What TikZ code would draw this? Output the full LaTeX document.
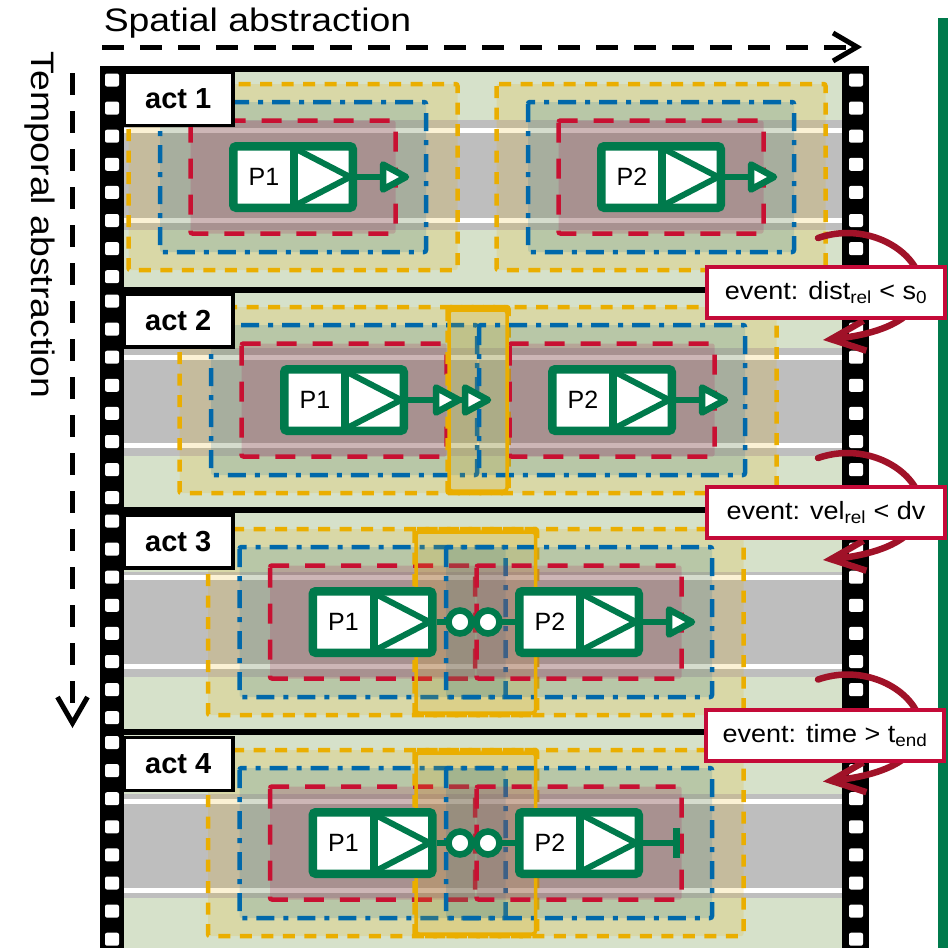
\documentclass[tikz,border=0pt]{standalone}
\usepackage{fontspec}
\setmainfont{Liberation Sans}
\newfontfamily\widesans[FakeStretch=1.15]{Liberation Sans}
\newfontfamily\evsans[FakeStretch=1.08]{Liberation Sans}
\usetikzlibrary{arrows.meta,calc}
\definecolor{vgreen}{RGB}{0,122,76}
\definecolor{zyellow}{RGB}{234,174,0}
\definecolor{zblue}{RGB}{0,104,170}
\definecolor{zred}{RGB}{200,16,50}
\definecolor{zredfill}{RGB}{175,30,90}
\definecolor{evred}{RGB}{196,10,56}
\definecolor{curvered}{RGB}{160,18,40}
\definecolor{grass}{RGB}{214,225,202}
\definecolor{roadgray}{RGB}{190,190,190}
\tikzset{
  yzone/.style={draw=zyellow, line width=4.5pt, dash pattern=on 12pt off 9.5pt, fill=zyellow, fill opacity=0.17, rounded corners=2pt},
  bzone/.style={draw=zblue, line width=4.5pt, dash pattern=on 18pt off 9pt on 5pt off 9pt, fill=zblue, fill opacity=0.15, rounded corners=2pt},
  rzone/.style={draw=zred, line width=4.5pt, dash pattern=on 20pt off 16pt, fill=zredfill, fill opacity=0.2, rounded corners=2pt},
  overlapbox/.style={draw=zyellow, line width=3.5pt, rounded corners=3pt},
  vblock/.style={draw=vgreen, fill=white, line width=8.5pt, minimum width=119.5pt, minimum height=61.5pt, inner sep=0pt, rounded corners=3pt},
  ptext/.style={font=\fontsize{25}{28}\selectfont, inner sep=0pt},
  conn/.style={draw=vgreen, line width=6pt},
  ahead/.style={draw=vgreen, fill=white, line width=6.5pt, line join=round},
  ring/.style={circle, draw=vgreen, fill=white, line width=6.5pt, minimum size=23pt, inner sep=0pt},
  endbar/.style={draw=vgreen, line width=7pt},
  vtri/.style={draw=vgreen, line width=6pt, line join=round},
  vdiv/.style={draw=vgreen, line width=8pt},
  actlabel/.style={draw=black, fill=white, line width=3.5pt, minimum width=109pt, minimum height=53pt, inner sep=0pt, font=\fontsize{29}{32}\selectfont\bfseries},
  evbox/.style={draw=evred, fill=white, line width=4pt, minimum width=238pt, minimum height=51pt, inner sep=0pt, font=\evsans\fontsize{25}{28}\selectfont},
  evcurve/.style={draw=curvered, line width=6.5pt, line cap=round, -{Straight Barb[length=34pt,width=30pt]}},
  axisline/.style={draw=black, line width=5pt, dash pattern=on 22pt off 16pt},
  axistext/.style={font=\widesans\fontsize{32.5}{36}\selectfont, inner sep=0pt},
}
\newcommand\zonesat[2]{%
  \draw[yzone] (#1-164.5,#2-93) rectangle (#1+164.5,#2+93);
  \draw[bzone] (#1-133,#2-75) rectangle (#1+133,#2+75);
  \draw[rzone] (#1-102.5,#2-56.5) rectangle (#1+102.5,#2+56.5);
}
\newcommand\vehicle[4]{%
  \node[vblock] (#1) at (#2,#3) {};
  \draw[vdiv] ($(#1)+(1,-31)$) -- ($(#1)+(1,31)$);
  \draw[vtri] ($(#1)+(3,-28)$) -- ($(#1)+(57,0)$) -- ($(#1)+(3,28)$);
  \node[ptext] (#1t) at ($(#1)+(-29,0)$) {#4};
}
\newcommand\ahd[1]{\draw[ahead] ($(#1)+(0,-12.5)$) -- ($(#1)+(23,0)$) -- ($(#1)+(0,12.5)$) -- cycle;}
\begin{document}
\begin{tikzpicture}[x=1pt,y=-1pt]
\useasboundingbox (0,0) rectangle (948,948);
% green bar
\fill[vgreen] (938,18) rectangle (948,948);
% background and roads
\fill[grass] (124,69) rectangle (842,948);
\foreach \gt/\gb/\wa/\wb in {120/230/130.5/220.5, 348/456/357.5/445.5, 572/677/577.5/666.5, 794/898/801/890.5}{
  \fill[roadgray] (124,\gt) rectangle (842,\gb);
  \fill[white] (124,\wa-2.5) rectangle (842,\wa+2.5);
  \fill[white] (124,\wb-2.5) rectangle (842,\wb+2.5);
}
% zones
\zonesat{293}{177}
\zonesat{661}{177}
\zonesat{344}{400}
\zonesat{612}{400}
\zonesat{372.5}{622}
\zonesat{579}{622}
\zonesat{372.5}{843}
\zonesat{579}{843}
\draw[overlapbox] (449,310) rectangle (507,491);
\draw[overlapbox] (416,532) rectangle (535.5,713);
\draw[overlapbox] (416,753) rectangle (535.5,934);
% act 1
\vehicle{v11}{293}{177}{P1}
\coordinate (a11) at ($(v11)+(90,0)$);
\draw[conn] (v11.east) -- (a11); \ahd{a11}
\vehicle{v12}{661}{177}{P2}
\coordinate (a12) at ($(v12)+(90,0)$);
\draw[conn] (v12.east) -- (a12); \ahd{a12}
% act 2
\vehicle{v21}{344}{400}{P1}
\coordinate (a21) at ($(v21)+(92,0)$);
\coordinate (a21b) at ($(v21)+(121,0)$);
\draw[conn] (v21.east) -- (a21b); \ahd{a21} \ahd{a21b}
\vehicle{v22}{612}{400}{P2}
\coordinate (a22) at ($(v22)+(90,0)$);
\draw[conn] (v22.east) -- (a22); \ahd{a22}
% act 3
\vehicle{v31}{372.5}{622}{P1}
\vehicle{v32}{579}{622}{P2}
\draw[conn] (v31.east) -- (488,622) -- (v32.west);
\node[ring] (r31) at (460,622) {};
\node[ring] (r32) at (488,622) {};
\coordinate (a32) at ($(v32)+(90,0)$);
\draw[conn] (v32.east) -- (a32); \ahd{a32}
% act 4
\vehicle{v41}{372.5}{843}{P1}
\vehicle{v42}{579}{843}{P2}
\draw[conn] (v41.east) -- (488,843) -- (v42.west);
\node[ring] (r41) at (460,843) {};
\node[ring] (r42) at (488,843) {};
\coordinate (e42) at ($(v42)+(97,0)$);
\draw[conn] (v42.east) -- (e42);
\draw[endbar] ($(e42)+(0,-15)$) -- ($(e42)+(0,15)$);
% film strip
\fill[black] (100,66) rectangle (124,948);
\fill[black] (842,66) rectangle (869,948);
\fill[black] (100,66) rectangle (869,72);
\fill[black] (124,287) rectangle (842,293);
\fill[black] (124,507) rectangle (842,513);
\fill[black] (124,728.5) rectangle (842,734.5);
\foreach \T in {69,290,510,731.5}{
  \foreach \k in {0,...,7}{
    \fill[white, rounded corners=2pt] (105,\T+4.5+28.1*\k) rectangle (119,\T+17.5+28.1*\k);
    \fill[white, rounded corners=2pt] (849,\T+4.5+28.1*\k) rectangle (863,\T+17.5+28.1*\k);
  }
}
\node[actlabel] (lab1) at (178.25,99) {act 1};
\node[actlabel] (lab2) at (178.25,320.5) {act 2};
\node[actlabel] (lab3) at (178.25,541.5) {act 3};
\node[actlabel] (lab4) at (178.25,764) {act 4};
% event transitions
\foreach \s [count=\i] in {290,510,731.5}{
  \coordinate (cs\i) at (818,\s-52);
  \coordinate (ce\i) at (823,\s+50);
  \draw[evcurve] (cs\i) .. controls (905,\s-82) and (990,\s+33) .. (ce\i);
}
\node[evbox] (ev1) at (826,292.5) {event: dist\textsubscript{rel} < s\textsubscript{0}};
\node[evbox] (ev2) at (826,512.5) {event: vel\textsubscript{rel} < dv};
\node[evbox] (ev3) at (825,735.5) {event: time > t\textsubscript{end}};
% axes
\node[axistext] (slab) at (257.5,23) {Spatial abstraction};
\node[axistext, rotate=-90] (tlab) at (40,225) {Temporal abstraction};
\coordinate (hx0) at (102,47);
\coordinate (hx1) at (862,47);
\draw[axisline, -{Straight Barb[length=24pt,width=28pt]}] (hx0) -- (hx1);
\coordinate (vy0) at (72.5,73);
\coordinate (vy1) at (72.5,728);
\draw[axisline, -{Straight Barb[length=26pt,width=30pt]}] (vy0) -- (vy1);
\end{tikzpicture}
\end{document}
